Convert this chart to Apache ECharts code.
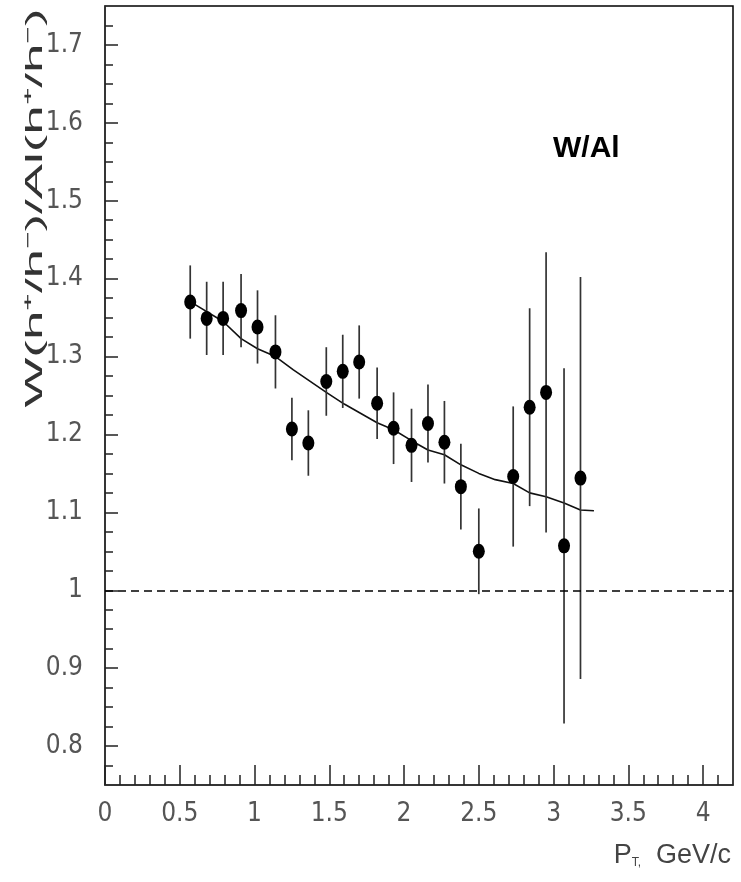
<!DOCTYPE html>
<html>
<head>
<meta charset="utf-8">
<script src="https://cdn.jsdelivr.net/npm/echarts@6/dist/echarts.min.js"></script>
<style>
html,body{margin:0;padding:0;background:#fff;}
#main{width:741px;height:882px;}
</style>
</head>
<body>
<div id="main"></div>
<script>
// ---- data ----
const pt    = [0.57,0.68,0.79,0.91,1.02,1.14,1.25,1.36,1.48,1.59,1.70,1.82,1.93,2.05,2.16,2.27,2.38,2.50,2.73,2.84,2.95,3.07,3.18];
const ratio = [1.370,1.349,1.349,1.359,1.338,1.306,1.207,1.189,1.268,1.281,1.293,1.240,1.208,1.186,1.214,1.190,1.133,1.050,1.146,1.235,1.254,1.057,1.144];
const err   = [0.047,0.047,0.047,0.047,0.047,0.047,0.040,0.042,0.044,0.047,0.047,0.046,0.046,0.047,0.050,0.053,0.055,0.055,0.090,0.127,0.180,0.228,0.258];
const fitX  = [0.60,0.79,0.91,1.02,1.14,1.26,1.48,1.60,1.82,1.93,2.05,2.16,2.27,2.38,2.50,2.61,2.73,2.84,2.95,3.07,3.18,3.27];
const fitY  = [1.367,1.345,1.323,1.310,1.300,1.283,1.254,1.239,1.215,1.206,1.192,1.180,1.174,1.161,1.150,1.142,1.137,1.125,1.120,1.112,1.103,1.102];
const refLevel = 1;
const xMajor = [0,0.5,1,1.5,2,2.5,3,3.5,4];
const yMajor = [0.8,0.9,1,1.1,1.2,1.3,1.4,1.5,1.6,1.7];
const xMinor = []; for (let i = 1; i <= 41; i++) xMinor.push(i / 10);
const yMinor = []; for (let i = 31; i <= 69; i++) yMinor.push(i / 40);
const yTitle = 'W(h\u207A/h\u207B)/Al(h\u207A/h\u207B)';
const panelLabel = 'W/Al';

const chart = echarts.init(document.getElementById('main'), null, {renderer: 'canvas'});
const labelFont = "'Liberation Sans Narrow', 'DejaVu Sans Condensed', 'Liberation Sans', sans-serif";

const scatterData = pt.map((x, i) => [x, ratio[i]]);
const errData = pt.map((x, i) => [x, ratio[i] - err[i], ratio[i] + err[i]]);
const fitData = fitX.map((x, i) => [x, fitY[i]]);

const axisLineStyle = {color: '#333', width: 1.5};

chart.setOption({
  animation: false,
  backgroundColor: '#fff',
  grid: {left: 105, right: 8, top: 6, bottom: 97, show: true, borderColor: '#000', borderWidth: 1.5, containLabel: false},
  xAxis: [
    {type: 'value', min: 0, max: 4.2, gridIndex: 0, position: 'bottom',
     axisLine: {show: true, onZero: false, lineStyle: axisLineStyle},
     axisTick: {show: true, inside: true, length: 20, customValues: xMajor, lineStyle: {color: '#222', width: 1.5}},
     axisLabel: {show: true, customValues: xMajor, margin: 16, fontSize: 26, color: '#555', fontFamily: labelFont},
     splitLine: {show: false}},
    {type: 'value', min: 0, max: 4.2, gridIndex: 0, position: 'bottom', offset: 0,
     axisLine: {show: false},
     axisTick: {show: true, inside: true, length: 10, customValues: xMinor, lineStyle: {color: '#222', width: 1.5}},
     axisLabel: {show: false}, splitLine: {show: false}}
  ],
  yAxis: [
    {type: 'value', min: 0.75, max: 1.75, gridIndex: 0, position: 'left',
     axisLine: {show: true, onZero: false, lineStyle: axisLineStyle},
     axisTick: {show: true, inside: true, length: 13, customValues: yMajor, lineStyle: {color: '#222', width: 1.5}},
     axisLabel: {show: true, customValues: yMajor, margin: 22, fontSize: 26, color: '#555', fontFamily: labelFont},
     splitLine: {show: false}},
    {type: 'value', min: 0.75, max: 1.75, gridIndex: 0, position: 'left', offset: 0,
     axisLine: {show: false},
     axisTick: {show: true, inside: true, length: 8, customValues: yMinor, lineStyle: {color: '#222', width: 1.5}},
     axisLabel: {show: false}, splitLine: {show: false}}
  ],
  series: [
    {type: 'line', data: fitData, xAxisIndex: 0, yAxisIndex: 0, showSymbol: false, symbol: 'none',
     lineStyle: {color: '#111', width: 1.6}, silent: true, z: 2,
     markLine: {silent: true, symbol: ['none', 'none'], label: {show: false},
       lineStyle: {color: '#000', type: [8, 5], width: 1.6},
       data: [{yAxis: refLevel}]}},
    {type: 'custom', data: errData, xAxisIndex: 0, yAxisIndex: 0, z: 3,
     renderItem: function (params, api) {
       const x = api.value(0);
       const p1 = api.coord([x, api.value(1)]);
       const p2 = api.coord([x, api.value(2)]);
       return {type: 'line', shape: {x1: p1[0], y1: p1[1], x2: p2[0], y2: p2[1]},
               style: {stroke: '#333', lineWidth: 1.7}};
     }},
    {type: 'scatter', data: scatterData, xAxisIndex: 0, yAxisIndex: 0, symbol: 'circle', symbolSize: [12, 15],
     itemStyle: {color: '#000', opacity: 1}, z: 4}
  ],
  graphic: [
    {type: 'text', x: 35, y: 208, rotation: Math.PI / 2, scaleX: 2.2, z: 10,
     style: {text: yTitle, fontSize: 24, fontFamily: "'Liberation Sans', sans-serif", fill: '#333',
             align: 'center', verticalAlign: 'middle'}},
    {type: 'text', x: 731, y: 869, z: 10,
     style: {text: '{p|P}{s|T,}{p|  GeV/c}', align: 'right', verticalAlign: 'bottom',
             rich: {p: {fontSize: 27, fontFamily: "'Liberation Sans', sans-serif", fill: '#444', color: '#444'},
                    s: {fontSize: 12, fontFamily: "'Liberation Sans', sans-serif", fill: '#444', color: '#444', verticalAlign: 'bottom'}}}},
    {type: 'text', x: 553, y: 149, z: 10,
     style: {text: panelLabel, fontSize: 30, fontWeight: 'bold', fontFamily: "'Liberation Sans', Arial, sans-serif", fill: '#000',
             align: 'left', verticalAlign: 'middle'}}
  ]
});
</script>
</body>
</html>
